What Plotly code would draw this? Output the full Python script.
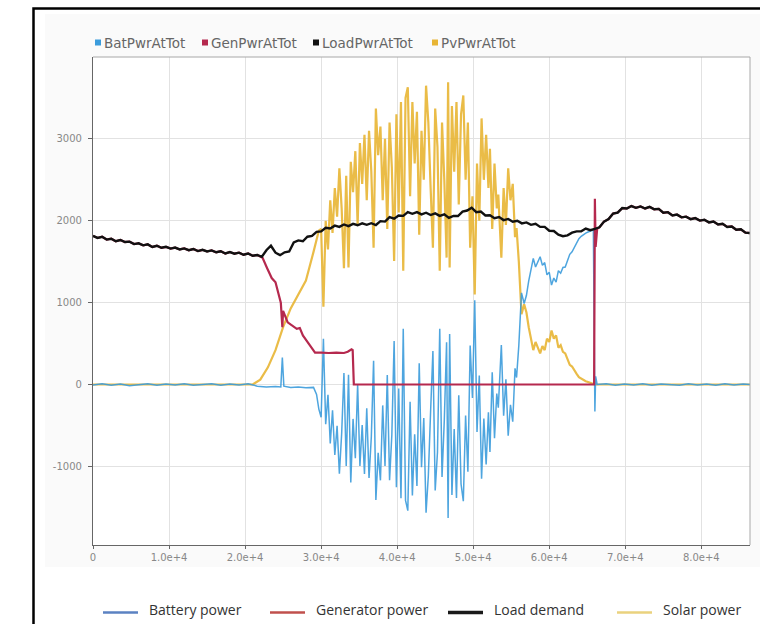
import plotly.graph_objects as go

# ---------------- data (time in seconds of the day, power in W) ----------------
load_time = list(range(0, 86401, 600))
load_power = [
    1815, 1790, 1805, 1770, 1780, 1750, 1765, 1740, 1745, 1715,
    1725, 1700, 1712, 1680, 1695, 1670, 1682, 1660, 1672, 1650,
    1662, 1640, 1655, 1630, 1645, 1625, 1638, 1615, 1628, 1600,
    1618, 1598, 1610, 1585, 1600, 1572, 1582, 1560, 1640, 1695,
    1610, 1580, 1615, 1625, 1735, 1760, 1750, 1805, 1815, 1865,
    1870, 1915, 1905, 1940, 1925, 1955, 1935, 1962, 1945, 1968,
    1950, 1970, 1948, 1995, 1990, 2045, 2025, 2065, 2060, 2105,
    2085, 2105, 2078, 2098, 2070, 2090, 2060, 2078, 2035, 2060,
    2058, 2112, 2125, 2160, 2105, 2112, 2065, 2068, 2032, 2045,
    2008, 2022, 1988, 2000, 1968, 1980, 1950, 1962, 1925, 1925,
    1878, 1875, 1830, 1812, 1822, 1855, 1870, 1872, 1905, 1885,
    1902, 1920, 1990, 2020, 2088, 2100, 2155, 2150, 2180, 2158,
    2175, 2150, 2170, 2140, 2145, 2098, 2105, 2065, 2075, 2042,
    2050, 2020, 2032, 2002, 2012, 1980, 1990, 1955, 1962, 1925,
    1930, 1890, 1895, 1855, 1850,
]

# daytime samples shared by the solar and battery series
day_time = [
    30000, 30300, 30600, 30900, 31200, 31500, 31800, 32100, 32400, 32700,
    33000, 33300, 33600, 33900, 34200, 34500, 34800, 35100, 35400, 35700,
    36000, 36300, 36600, 36900, 37200, 37500, 37800, 38100, 38400, 38700,
    39000, 39300, 39600, 39900, 40200, 40500, 40800, 41100, 41400, 41700,
    42000, 42300, 42600, 42900, 43200, 43500, 43800, 44100, 44400, 44700,
    45000, 45300, 45600, 45900, 46200, 46500, 46700, 46900, 47200, 47500,
    47800, 48100, 48400, 48700, 49000, 49300, 49600, 49900, 50200, 50500,
    50800, 51100, 51400, 51700, 52000, 52200, 52500, 52800, 53100, 53300,
    53700, 54000, 54300, 54600, 54900, 55200, 55500, 55700, 56000, 56350,
    56700, 57000, 57300, 57600, 57900, 58200, 58500, 58800, 59100, 59400,
    59700, 60000, 60300, 60600, 60900, 61200, 61500, 61800, 62100, 62400,
    62700, 63000, 63300, 63600, 63900, 64200, 64500, 64800, 65100, 65500,
    65800,
]
pv_day = [
    1900, 950, 2000, 1650, 2250, 1850, 2400, 2050, 2640, 2150,
    1420, 2550, 1430, 2720, 2350, 2850, 1950, 2950, 2450, 3050,
    2250, 3100, 2600, 1670, 3370, 2800, 3150, 2250, 3000, 1900,
    3200, 2650, 1510, 3300, 2100, 3450, 1390, 3500, 3630, 2300,
    3450, 2700, 3330, 1830, 3100, 2500, 3650, 3200, 2400, 1670,
    3370, 2900, 1390, 3200, 2500, 1550, 3690, 1430, 3400, 2600,
    3450, 2200, 3300, 3530, 2500, 3200, 1670, 2300, 1100, 2700,
    2000, 3250, 2500, 3050, 2400, 2880, 1900, 2700, 2150, 2320,
    1550, 2400, 1950, 2640, 2250, 2450, 1800, 1910, 1500, 860,
    980, 880, 700, 560, 420, 520, 440, 380, 470, 420,
    560, 520, 660, 560, 600, 450, 480, 400, 380, 300,
    240, 220, 170, 130, 90, 70, 50, 40, 30, 20,
    10,
]
bat_day = [
    -400, 560, -485, -125, -720, -315, -860, -505, -1090, -600,
    140, -995, 118, -1195, -420, -900, 2, -995, -495, -1092,
    -290, -1140, -640, 290, -1410, -835, -1170, -255, -995, 115,
    -1170, -615, 530, -1255, -50, -1390, 680, -1415, -1540, -210,
    -1355, -607, -1238, 260, -1010, -410, -1565, -1115, -317, 408,
    -1295, -827, 682, -1130, -432, 515, -1630, 618, -1350, -545,
    -1385, -130, -1215, -1425, -380, -1065, 475, -165, 1030, -580,
    110, -1150, -415, -975, -340, -825, 150, -655, -110, -282,
    483, -380, 65, -625, -247, -455, 197, 85, 480, 1120,
    990, 1090, 1265, 1400, 1540, 1435, 1510, 1560, 1455, 1490,
    1340, 1370, 1215, 1300, 1250, 1390, 1360, 1430, 1435, 1525,
    1590, 1620, 1680, 1730, 1780, 1810, 1835, 1850, 1862, 1875,
    1890,
]

# solar: zero at night, morning ramp, day samples, zero after sunset
pv_morning_time = [0, 21000, 22000, 23000, 24000, 25000, 26000, 27000, 28000, 29000, 29700]
pv_morning = [0, 0, 60, 210, 420, 700, 930, 1100, 1270, 1620, 1880]
pv_evening_time = [66000, 86400]
pv_evening = [0, 0]

# battery: idle at night, small morning draw, day samples, idle again
bat_morning_time = [
    0, 1200, 2400, 3600, 4800, 6000, 7200, 8400, 9600, 10800,
    12000, 13200, 14400, 15600, 16800, 18000, 19200, 20400,
    21600, 22800, 24000, 24700, 24900, 25100, 26000, 27000, 28000, 29000, 29400, 29700,
]
bat_morning = [
    -5, 10, -10, 5, -15, 0, 10, -10, 5, -5,
    10, -10, 0, 10, -10, 5, -5, 10,
    -20, -30, -25, -30, 330, -20, -35, -30, -40, -35, -120, -300,
]
bat_evening_time = [
    65950, 66000, 66100, 66300, 67500, 68700, 69900, 71100, 72300, 73500,
    74700, 75900, 77100, 78300, 79500, 80700, 81900, 83100, 84300, 85500, 86400,
]
bat_evening = [
    240, -330, 100, 0, 10, -10, 5, -5, 10, -10,
    5, 0, -10, 10, -5, 5, -10, 10, -5, 5, 0,
]

# generator: carries the whole load at night, ramps down as solar rises,
# off during the day, restarts in the evening
gen_day_time = [
    22300, 22900, 23500, 24000, 24400, 24700, 24900, 25000, 25600, 26200,
    26800, 27200, 27600, 28200, 28700, 29200, 30000, 31000, 32000, 33000,
    33500, 34000, 34150, 34300, 65900, 66000, 66100, 66300,
]
gen_day = [
    1547, 1420, 1300, 1250, 1100, 1000, 700, 900, 760, 720,
    680, 690, 600, 520, 450, 390, 390, 385, 390, 385,
    400, 430, 420, 0, 0, 2270, 1680, 1900,
]
GEN_MORNING_END = 21600   # generator output equals load up to here
GEN_EVENING_START = 66600  # and again from here on

x_tick_vals = [0, 10000, 20000, 30000, 40000, 50000, 60000, 70000, 80000]
x_tick_text = ["0", "1.0e+4", "2.0e+4", "3.0e+4", "4.0e+4", "5.0e+4", "6.0e+4", "7.0e+4", "8.0e+4"]
y_tick_vals = [-1000, 0, 1000, 2000, 3000]
y_tick_text = ["-1000", "0", "1000", "2000", "3000"]

series_names = ["BatPwrAtTot", "GenPwrAtTot", "LoadPwrAtTot", "PvPwrAtTot"]
series_colors = ["#3b9cdc", "#b5294e", "#111111", "#e8b534"]
legend_labels = ["Battery power", "Generator power", "Load demand", "Solar power"]
legend_colors = ["#5b82c2", "#c0504d", "#1a1a1a", "#ead27e"]

# ---------------- assemble series ----------------
pv_time = pv_morning_time + day_time + pv_evening_time
pv_power = pv_morning + pv_day + pv_evening
bat_time = bat_morning_time + day_time + bat_evening_time
bat_power = bat_morning + bat_day + bat_evening

gen_time, gen_power = [], []
for t, v in zip(load_time, load_power):
    if t <= GEN_MORNING_END:
        gen_time.append(t)
        gen_power.append(v)
gen_time += gen_day_time
gen_power += gen_day
for t, v in zip(load_time, load_power):
    if t >= GEN_EVENING_START:
        gen_time.append(t)
        gen_power.append(v)

# ---------------- figure ----------------
W, H = 760, 624
L, R, T, B = 93, 750, 57, 545


def fx(px):
    return (px - L) / (R - L)


def fy(py):
    return (B - py) / (B - T)


fig = go.Figure()
fig.add_trace(go.Scatter(x=pv_time, y=pv_power, mode="lines", name=series_names[3],
                         line=dict(color=series_colors[3], width=2.2), opacity=0.9,
                         showlegend=False))
fig.add_trace(go.Scatter(x=bat_time, y=bat_power, mode="lines", name=series_names[0],
                         line=dict(color=series_colors[0], width=1.5), opacity=0.9,
                         showlegend=False))
fig.add_trace(go.Scatter(x=gen_time, y=gen_power, mode="lines", name=series_names[1],
                         line=dict(color=series_colors[1], width=2.2), showlegend=False))
fig.add_trace(go.Scatter(x=load_time, y=load_power, mode="lines", name=series_names[2],
                         line=dict(color=series_colors[2], width=2.4), showlegend=False))

shapes = []
annotations = []

# faint panel behind the chart
shapes.append(dict(type="rect", xref="paper", yref="paper", layer="below",
                   x0=fx(45), x1=fx(762), y0=fy(567), y1=fy(14),
                   fillcolor="#fafafa", line=dict(width=0)))
shapes.append(dict(type="rect", xref="paper", yref="paper", layer="below",
                   x0=fx(L), x1=fx(R), y0=0, y1=1,
                   fillcolor="#ffffff", line=dict(width=0)))

# plot frame (top and right)
shapes.append(dict(type="line", xref="paper", yref="paper", x0=0, x1=1, y0=1, y1=1,
                   line=dict(color="#a8a8a8", width=1)))
shapes.append(dict(type="line", xref="paper", yref="paper", x0=1, x1=1, y0=0, y1=1,
                   line=dict(color="#a8a8a8", width=1)))

# outer black frame
shapes.append(dict(type="path", xref="paper", yref="paper",
                   path=f"M {fx(33.5)} {fy(626)} L {fx(33.5)} {fy(8.5)} L {fx(764)} {fy(8.5)}",
                   line=dict(color="#000000", width=2.5)))

# top legend: colour squares with series names
top_x = [95, 202, 313, 432]
for i, name in enumerate(series_names):
    x0 = top_x[i]
    shapes.append(dict(type="rect", xref="paper", yref="paper",
                       x0=fx(x0), x1=fx(x0 + 6), y0=fy(45.5), y1=fy(39.5),
                       fillcolor=series_colors[i], line=dict(width=0)))
    annotations.append(dict(xref="paper", yref="paper", x=fx(x0 + 7), y=fy(42.5),
                            xanchor="left", yanchor="middle", showarrow=False,
                            text=name, font=dict(family="DejaVu Sans", size=13.5, color="#666666")))

# bottom legend: line samples with descriptions
bot_x = [103, 270, 448, 617]
bot_w = [2.5, 2.5, 3.5, 2.5]
for i, label in enumerate(legend_labels):
    x0 = bot_x[i]
    shapes.append(dict(type="line", xref="paper", yref="paper",
                       x0=fx(x0), x1=fx(x0 + 35), y0=fy(612.5), y1=fy(612.5),
                       line=dict(color=legend_colors[i], width=bot_w[i])))
    annotations.append(dict(xref="paper", yref="paper", x=fx(x0 + 44), y=fy(609),
                            xanchor="left", yanchor="middle", showarrow=False,
                            text=label, font=dict(family="Open Sans", size=14, color="#333333")))

fig.update_layout(
    width=W, height=H,
    margin=dict(l=L, r=W - R, t=T, b=H - B),
    paper_bgcolor="#ffffff",
    plot_bgcolor="#ffffff",
    showlegend=False,
    shapes=shapes,
    annotations=annotations,
    xaxis=dict(
        range=[0, 86400], tickvals=x_tick_vals, ticktext=x_tick_text,
        showgrid=True, gridcolor="#e2e2e2", gridwidth=1, zeroline=False,
        showline=True, linecolor="#666666", linewidth=1.2,
        ticks="outside", ticklen=3, tickcolor="#666666",
        tickfont=dict(family="DejaVu Sans", size=10, color="#888888"),
    ),
    yaxis=dict(
        range=[-1960, 4000], tickvals=y_tick_vals, ticktext=y_tick_text,
        showgrid=True, gridcolor="#e2e2e2", gridwidth=1, zeroline=False,
        showline=True, linecolor="#666666", linewidth=1.2,
        ticks="outside", ticklen=4, tickcolor="#666666",
        ticklabelstandoff=4,
        tickfont=dict(family="DejaVu Sans", size=10, color="#888888"),
    ),
)

fig.write_html("out.html")
